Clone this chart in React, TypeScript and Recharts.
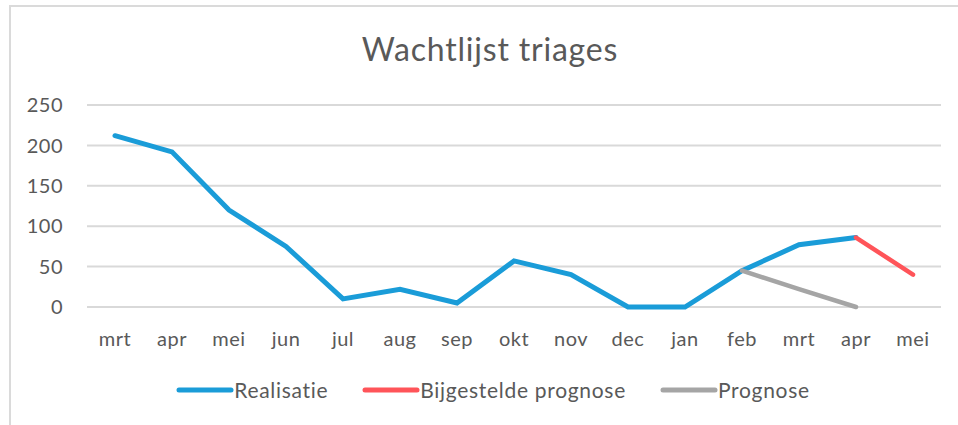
import { CartesianGrid, Legend, Line, LineChart, XAxis, YAxis } from "recharts";

const months = ["mrt", "apr", "mei", "jun", "jul", "aug", "sep", "okt", "nov", "dec", "jan", "feb", "mrt", "apr", "mei"];
const realisatie = [212, 192, 120, 75, 10, 22, 5, 57, 40, 0, 0, 45, 77, 86, null];
const bijgesteld = [null, null, null, null, null, null, null, null, null, null, null, null, null, 86, 40];
const prognose = [null, null, null, null, null, null, null, null, null, null, null, 45, 22, 0, null];
const yTicks = [0, 50, 100, 150, 200, 250];

const data = months.map((m, i) => ({
  month: m,
  realisatie: realisatie[i],
  bijgesteld: bijgesteld[i],
  prognose: prognose[i],
}));

const series = [
  { key: "realisatie", name: "Realisatie", color: "#1A9CD8" },
  { key: "bijgesteld", name: "Bijgestelde prognose", color: "#FF5459" },
  { key: "prognose", name: "Prognose", color: "#A5A5A5" },
];

const font = "Lato, 'Open Sans', sans-serif";
const textColor = "#595959";

function LegendContent() {
  return (
    <div style={{ display: "flex", justifyContent: "center", alignItems: "center", gap: 34, paddingLeft: 28 }}>
      {series.map((s) => (
        <div key={s.key} style={{ display: "flex", alignItems: "center" }}>
          <svg width={58} height={8}>
            <line x1={3} y1={4} x2={55} y2={4} stroke={s.color} strokeWidth={5} strokeLinecap="round" />
          </svg>
          <span style={{ fontFamily: font, fontSize: 21, letterSpacing: 0.7, color: textColor }}>{s.name}</span>
        </div>
      ))}
    </div>
  );
}

export default function App() {
  return (
    <div style={{ position: "fixed", left: 0, top: 0, width: 958, height: 425, background: "#fff", overflow: "hidden" }}>
      <div
        style={{
          position: "absolute",
          left: 9,
          top: 5,
          width: 980,
          height: 440,
          border: "2px solid #DADADA",
        }}
      />
      <div
        style={{
          position: "absolute",
          left: 0,
          width: 980,
          top: 29,
          textAlign: "center",
          fontFamily: font,
          fontSize: 32,
          letterSpacing: 0.8,
          color: textColor,
        }}
      >
        Wachtlijst triages
      </div>
      <LineChart
        width={958}
        height={425}
        data={data}
        margin={{ top: 105, right: 17, bottom: 38, left: 0 }}
        style={{ position: "absolute", left: 0, top: 0 }}
      >
        <CartesianGrid vertical={false} stroke="#D9D9D9" strokeWidth={2} />
        <XAxis
          dataKey="month"
          axisLine={false}
          tickLine={false}
          tickSize={0}
          tickMargin={25}
          height={40}
          padding={{ left: 28, right: 28 }}
          interval={0}
          tick={{ fill: textColor, fontSize: 20, fontFamily: font, letterSpacing: 0.5 }}
        />
        <YAxis
          domain={[0, 250]}
          ticks={yTicks}
          width={87}
          axisLine={false}
          tickLine={false}
          tickSize={0}
          tickMargin={24}
          tick={{ fill: textColor, fontSize: 20, fontFamily: font, letterSpacing: 0.5 }}
        />
        <Legend height={40} content={<LegendContent />} wrapperStyle={{ top: 377, left: 0, width: 958 }} />
        {series.map((s) => (
          <Line
            key={s.key}
            dataKey={s.key}
            name={s.name}
            stroke={s.color}
            strokeWidth={s.key === "realisatie" ? 5 : 4.5}
            strokeLinecap="round"
            dot={false}
            activeDot={false}
            isAnimationActive={false}
          />
        ))}
      </LineChart>
    </div>
  );
}
